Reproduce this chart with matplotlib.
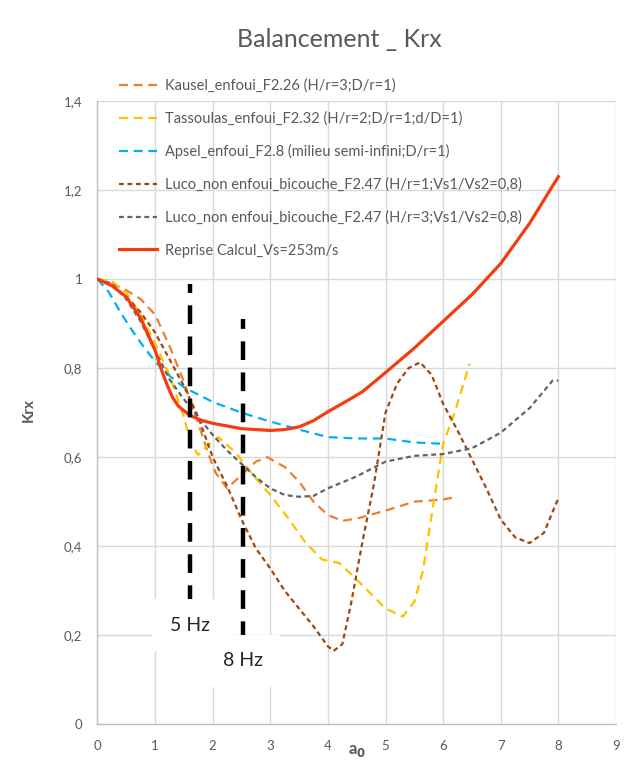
import matplotlib
matplotlib.use("Agg")
import matplotlib.pyplot as plt

plt.rcParams["font.family"] = ["Lato", "DejaVu Sans"]

# ---- data ----
kausel_x = [0, 0.25, 0.5, 0.75, 1.0, 1.25, 1.5, 1.75, 1.92, 2.05, 2.25, 2.5, 2.75, 2.95,
            3.25, 3.5, 3.75, 4.0, 4.25, 4.5, 5.0, 5.5, 6.0, 6.2]
kausel_y = [1.0, 0.99, 0.975, 0.955, 0.92, 0.85, 0.77, 0.676, 0.609, 0.565, 0.53, 0.56,
            0.59, 0.60, 0.578, 0.545, 0.50, 0.47, 0.457, 0.462, 0.48, 0.50, 0.505, 0.51]

tass_x = [0, 0.25, 0.5, 0.75, 1.0, 1.25, 1.5, 1.62, 1.75, 1.9, 2.1, 2.4, 2.7, 3.0, 3.3,
          3.6, 3.9, 4.2, 4.5, 5.0, 5.3, 5.5, 5.65, 5.8, 6.0, 6.2, 6.46]
tass_y = [1.0, 0.995, 0.97, 0.92, 0.855, 0.785, 0.69, 0.63, 0.605, 0.625, 0.645, 0.61,
          0.56, 0.515, 0.465, 0.41, 0.37, 0.362, 0.325, 0.26, 0.242, 0.275, 0.345, 0.47,
          0.63, 0.70, 0.81]

apsel_x = [0, 0.2, 0.4, 0.6, 0.8, 1.0, 1.2, 1.5, 2.0, 2.5, 3.0, 3.5, 4.0, 4.5, 5.0, 5.5, 6.0]
apsel_y = [1.0, 0.97, 0.925, 0.885, 0.848, 0.815, 0.788, 0.757, 0.724, 0.700, 0.680,
           0.662, 0.645, 0.642, 0.642, 0.633, 0.630]

luco1_x = [0, 0.25, 0.5, 0.75, 1.0, 1.25, 1.5, 1.75, 2.0, 2.25, 2.5, 2.75, 3.0, 3.25,
           3.5, 3.75, 4.0, 4.1, 4.25, 4.4, 4.6, 4.8, 5.0, 5.2, 5.4, 5.6, 5.8, 6.0, 6.25,
           6.5, 6.75, 7.0, 7.25, 7.5, 7.75, 8.0]
luco1_y = [1.0, 0.985, 0.96, 0.925, 0.88, 0.82, 0.76, 0.69, 0.60, 0.535, 0.46, 0.395,
           0.35, 0.30, 0.26, 0.22, 0.175, 0.165, 0.18, 0.27, 0.41, 0.54, 0.70, 0.765,
           0.80, 0.813, 0.785, 0.72, 0.66, 0.595, 0.53, 0.46, 0.42, 0.407, 0.43, 0.508]

luco3_x = [0, 0.25, 0.5, 0.75, 1.0, 1.25, 1.5, 1.75, 2.0, 2.25, 2.5, 2.75, 3.0, 3.25,
           3.5, 3.75, 4.0, 4.5, 5.0, 5.5, 6.0, 6.5, 7.0, 7.5, 7.9, 8.0]
luco3_y = [1.0, 0.99, 0.955, 0.905, 0.84, 0.775, 0.73, 0.69, 0.65, 0.615, 0.585, 0.555,
           0.53, 0.515, 0.511, 0.513, 0.53, 0.557, 0.59, 0.603, 0.607, 0.62, 0.655,
           0.71, 0.772, 0.772]

calc_x = [0, 0.25, 0.5, 0.75, 1.0, 1.1, 1.2, 1.3, 1.4, 1.6, 1.8, 2.0, 2.5, 3.0, 3.25,
          3.5, 3.75, 4.0, 4.3, 4.6, 5.0, 5.5, 6.0, 6.5, 7.0, 7.5, 8.0]
calc_y = [1.0, 0.985, 0.96, 0.912, 0.84, 0.80, 0.765, 0.735, 0.715, 0.694, 0.683,
          0.676, 0.664, 0.660, 0.662, 0.668, 0.682, 0.702, 0.724, 0.747, 0.790, 0.845,
          0.905, 0.965, 1.035, 1.125, 1.23]

labels = ["Kausel_enfoui_F2.26 (H/r=3;D/r=1)",
          "Tassoulas_enfoui_F2.32 (H/r=2;D/r=1;d/D=1)",
          "Apsel_enfoui_F2.8 (milieu semi-infini;D/r=1)",
          "Luco_non enfoui_bicouche_F2.47 (H/r=1;Vs1/Vs2=0,8)",
          "Luco_non enfoui_bicouche_F2.47 (H/r=3;Vs1/Vs2=0,8)",
          "Reprise Calcul_Vs=253m/s"]

freq_labels = ["5 Hz", "8 Hz"]
freq_x = [1.6, 2.52]
freq_top = [0.99, 0.91]
freq_bottom = [0.27, 0.19]

# ---- figure ----
fig = plt.figure(figsize=(6.35, 7.65), dpi=100)
ax = fig.add_axes([0.1535, 0.0532, 0.8165, 0.8148])

long_dash = (0, (4, 2.6))
short_dash = (0, (2.2, 1.6))

series = [
    (kausel_x, kausel_y, "#ED7D31", long_dash, 1.6),
    (tass_x, tass_y, "#FFC000", long_dash, 1.6),
    (apsel_x, apsel_y, "#00B0F0", long_dash, 1.6),
    (luco1_x, luco1_y, "#9E480E", short_dash, 1.6),
    (luco3_x, luco3_y, "#636363", short_dash, 1.6),
]
handles = []
for (xs, ys, col, ls, lw), lab in zip(series, labels[:5]):
    h, = ax.plot(xs, ys, color=col, ls=ls, lw=lw, label=lab, zorder=3)
    handles.append(h)
h, = ax.plot(calc_x, calc_y, color="#F53C10", lw=2.3, label=labels[5], zorder=4)
handles.append(h)

# frequency markers
for fx, top, bot in zip(freq_x, freq_top, freq_bottom):
    ax.plot([fx, fx], [bot, top], color="black", lw=3.2, ls=(0, (4.2, 2.8)), zorder=5)
for fx, fy, lab in zip(freq_x, [0.222, 0.143], freq_labels):
    ax.text(fx, fy, lab, fontsize=14, color="#262626", ha="center", va="center",
            zorder=6, bbox=dict(boxstyle="square,pad=0.9", fc="white", ec="none"))

ax.set_xlim(0, 9)
ax.set_ylim(0, 1.4)
ax.set_xticks(range(0, 10))
ax.set_yticks([0, 0.2, 0.4, 0.6, 0.8, 1.0, 1.2, 1.4])
ax.set_yticklabels(["0", "0,2", "0,4", "0,6", "0,8", "1", "1,2", "1,4"])
ax.tick_params(length=0, labelsize=9.5, labelcolor="#595959", pad=11)
ax.grid(True, color="#d9d9d9", lw=1.0)
ax.set_axisbelow(True)
for s in ["top", "right"]:
    ax.spines[s].set_visible(False)
for s in ["left", "bottom"]:
    ax.spines[s].set_color("#bfbfbf")
    ax.spines[s].set_linewidth(1.0)

ax.set_xlabel("a$_\\mathbf{0}$", fontsize=12, fontweight="bold", color="#595959")
ax.xaxis.set_label_coords(0.5, -0.03)
ax.set_ylabel("Krx", fontsize=11, fontweight="bold", color="#595959")
ax.yaxis.set_label_coords(-0.119, 0.504)

fig.text(0.535, 0.948, "Balancement _ Krx", fontsize=18, color="#595959",
         ha="center", va="center")

fig.legend(handles=handles, loc="upper left", bbox_to_anchor=(0.178, 0.905),
           frameon=False, fontsize=10.5, labelcolor="#595959", handlelength=2.6,
           handletextpad=0.55, labelspacing=1.27, borderaxespad=0)

fig.savefig("out.png", dpi=100)
